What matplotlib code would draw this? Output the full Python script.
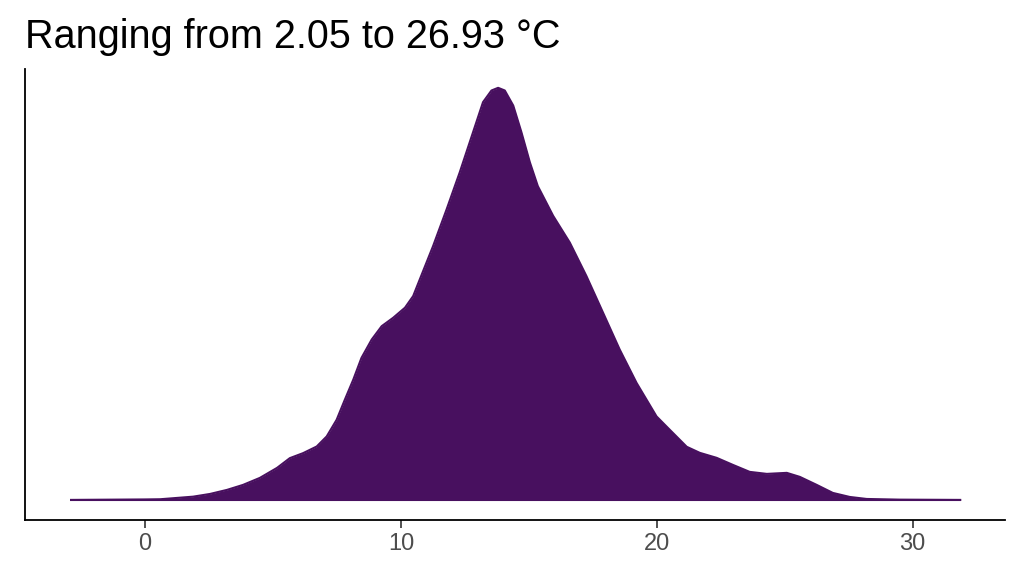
import numpy as np
import matplotlib
matplotlib.use('Agg')
import matplotlib.pyplot as plt

plt.rcParams['font.family'] = ['Liberation Sans', 'DejaVu Sans']

# density estimate of temperature (°C)
temp = [-2.93, 0.0, 0.59, 1.88, 2.54, 3.20, 3.83, 4.49, 5.16, 5.66, 6.18,
        6.71, 7.10, 7.49, 7.81, 8.14, 8.46, 8.86, 9.25, 9.70, 10.16,
        10.48, 10.74, 11.26, 11.79, 12.30, 12.82, 13.21, 13.54, 13.80,
        14.06, 14.39, 14.71, 15.04, 15.35, 15.95, 16.60, 17.25, 17.90,
        18.55, 19.21, 19.99, 20.39, 21.17, 21.68, 22.34, 22.97, 23.63,
        24.30, 25.08, 25.59, 26.25, 26.88, 27.54, 28.20, 29.49, 31.90]
dens = [0.0, 0.00012, 0.00017, 0.0008, 0.00146, 0.00244, 0.00366,
        0.00537, 0.0078, 0.01017, 0.01139, 0.0130, 0.01544, 0.01951,
        0.02439, 0.02927, 0.03456, 0.03902, 0.04227, 0.04432, 0.04676,
        0.04959, 0.05366, 0.06178, 0.07073, 0.07968, 0.08944, 0.09676,
        0.09959, 0.10024, 0.09959, 0.09593, 0.08944, 0.08212, 0.07634,
        0.0691, 0.06261, 0.05446, 0.04554, 0.03659, 0.02846, 0.02032,
        0.0178, 0.01293, 0.01146, 0.01024, 0.00854, 0.00683, 0.00634,
        0.00659, 0.00561, 0.00366, 0.00171, 0.00073, 0.00024, 0.00007,
        0.0]

title = "Ranging from 2.05 to 26.93 °C"
col = '#48105F'

fig = plt.figure(figsize=(10.24, 5.76), dpi=100)
ax = fig.add_axes([0.0244, 0.0972, 0.9566, 0.7836])

ax.fill_between(temp, dens, 0, color=col, lw=0)
ax.plot(temp, dens, color=col, lw=1.5, solid_capstyle='butt',
        solid_joinstyle='round')
ax.plot([temp[0], temp[-1]], [0, 0], color=col, lw=1.5, solid_capstyle='butt')

ax.set_xlim(-4.69, 33.59)
ax.set_ylim(-0.00488, 0.1049)
ax.set_xticks([0, 10, 20, 30])
ax.set_yticks([])
ax.tick_params(axis='x', length=6, width=1.2, color='#333333',
               labelsize=17, labelcolor='#4D4D4D', pad=3)

for s in ['top', 'right']:
    ax.spines[s].set_visible(False)
for s in ['left', 'bottom']:
    ax.spines[s].set_linewidth(1.3)
    ax.spines[s].set_color('black')

fig.text(0.0244, 0.916, title, fontsize=28.5, ha='left', va='baseline')

fig.savefig('out.png', dpi=100)
